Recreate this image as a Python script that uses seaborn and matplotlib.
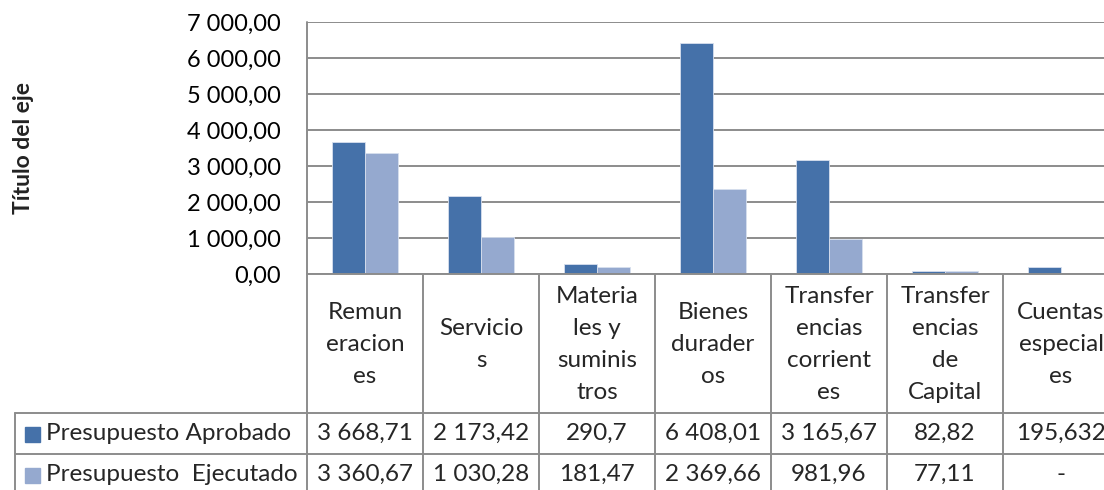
import numpy as np
import pandas as pd
import matplotlib
matplotlib.use("Agg")
import matplotlib.pyplot as plt
from matplotlib.ticker import FuncFormatter, MultipleLocator
import seaborn as sns

################################################
#                 Data
################################################
categorias = ["Remuneraciones", "Servicios", "Materiales y suministros",
              "Bienes duraderos", "Transferencias corrientes",
              "Transferencias de Capital", "Cuentas especiales"]
cabeceras = [["Remun", "eracion", "es"], ["Servicio", "s"],
             ["Materia", "les y", "suminis", "tros"], ["Bienes", "durader", "os"],
             ["Transfer", "encias", "corrient", "es"],
             ["Transfer", "encias", "de", "Capital"], ["Cuentas", "especial", "es"]]
series = ["Presupuesto Aprobado", "Presupuesto  Ejecutado"]
aprobado = [3668.71, 2173.42, 290.7, 6408.01, 3165.67, 82.82, 195.632]
ejecutado = [3360.67, 1030.28, 181.47, 2369.66, 981.96, 77.11, np.nan]
colores = ["#4571A9", "#95A9CF"]

df = pd.DataFrame({
    "categoria": categorias * 2,
    "serie": [series[0]] * len(categorias) + [series[1]] * len(categorias),
    "valor": aprobado + ejecutado,
})

def fmt_num(v, dec=None):
    if pd.isna(v):
        return "-"
    s = f"{v:,.{dec}f}" if dec is not None else f"{v:,}"
    return s.replace(",", " ").replace(".", ",")

################################################
#                 Layout (pixels)
################################################
W, H = 1104, 490
ax_left, ax_top, ax_bot = 307, 22, 274
col_w = 116
row1, row2, row_h = 413, 454, 41
tab_left = 15
grid_col = "#8C8C8C"
FONT = ["Lato", "DejaVu Sans"]
fs = 17
fs_tab = 17.5

sns.set_style("white")
plt.rcParams["font.family"] = FONT

fig = plt.figure(figsize=(W / 100, H / 100), dpi=100)
ncol = len(categorias)
ax = fig.add_axes([ax_left / W, 1 - ax_bot / H, ncol * col_w / W, (ax_bot - ax_top) / H])

sns.barplot(data=df, x="categoria", y="valor", hue="serie", order=categorias,
            hue_order=series, palette=colores, saturation=1, width=0.57, gap=0,
            edgecolor="#D7DFEE", linewidth=0.6, ax=ax, legend=False, zorder=3)

ax.set_xlim(-0.5, ncol - 0.5)
ax.set_ylim(0, 7000)
ax.yaxis.set_major_locator(MultipleLocator(1000))
ax.yaxis.set_major_formatter(FuncFormatter(lambda v, p: fmt_num(v, 2)))
ax.grid(axis="y", color=grid_col, linewidth=1.4, zorder=0)
ax.set_axisbelow(True)
for s in ["top", "right", "bottom", "left"]:
    ax.spines[s].set_visible(False)
ax.set_xticks([])
ax.set_xlabel("")
ax.set_ylabel("")
ax.tick_params(axis="y", length=0, labelsize=fs, pad=19, labelcolor="black")

fig.text(24 / W, 1 - 148 / H, "Título del eje", rotation=90, ha="center",
         va="center", fontsize=fs - 0.5, fontweight="bold", color="#222222")

################################################
#                 Data table
################################################
tab = fig.add_axes([0, 0, 1, 1], zorder=5)
tab.set_xlim(0, W)
tab.set_ylim(H, 0)
tab.axis("off")
tab.patch.set_alpha(0)

lw = 1.4
right = ax_left + ncol * col_w
tab.plot([ax_left, ax_left], [ax_top, H + 5], color=grid_col, lw=lw)
tab.plot([ax_left, right], [ax_bot, ax_bot], color=grid_col, lw=lw)
for i in range(1, ncol + 1):
    x = ax_left + i * col_w
    tab.plot([x, x], [ax_bot, H + 5], color=grid_col, lw=lw)
for y in [row1, row2]:
    tab.plot([tab_left, right], [y, y], color=grid_col, lw=lw)
tab.plot([tab_left, tab_left], [row1, H + 5], color=grid_col, lw=lw)

for i, lines in enumerate(cabeceras):
    cx = ax_left + (i + 0.5) * col_w
    tab.text(cx, (ax_bot + row1) / 2 + 1, "\n".join(lines), ha="center", va="center",
             fontsize=fs_tab, linespacing=1.65)

for r, (nombre, vals) in enumerate(zip(series, [aprobado, ejecutado])):
    cy = row1 + (r + 0.5) * row_h
    tab.add_patch(plt.Rectangle((25, cy - 7), 15, 15, color=colores[r]))
    tab.text(46, cy, nombre, ha="left", va="center", fontsize=fs_tab)
    for i, v in enumerate(vals):
        cx = ax_left + (i + 0.5) * col_w
        tab.text(cx, cy, fmt_num(v), ha="center", va="center", fontsize=fs_tab)

fig.savefig("out.png", dpi=100)
